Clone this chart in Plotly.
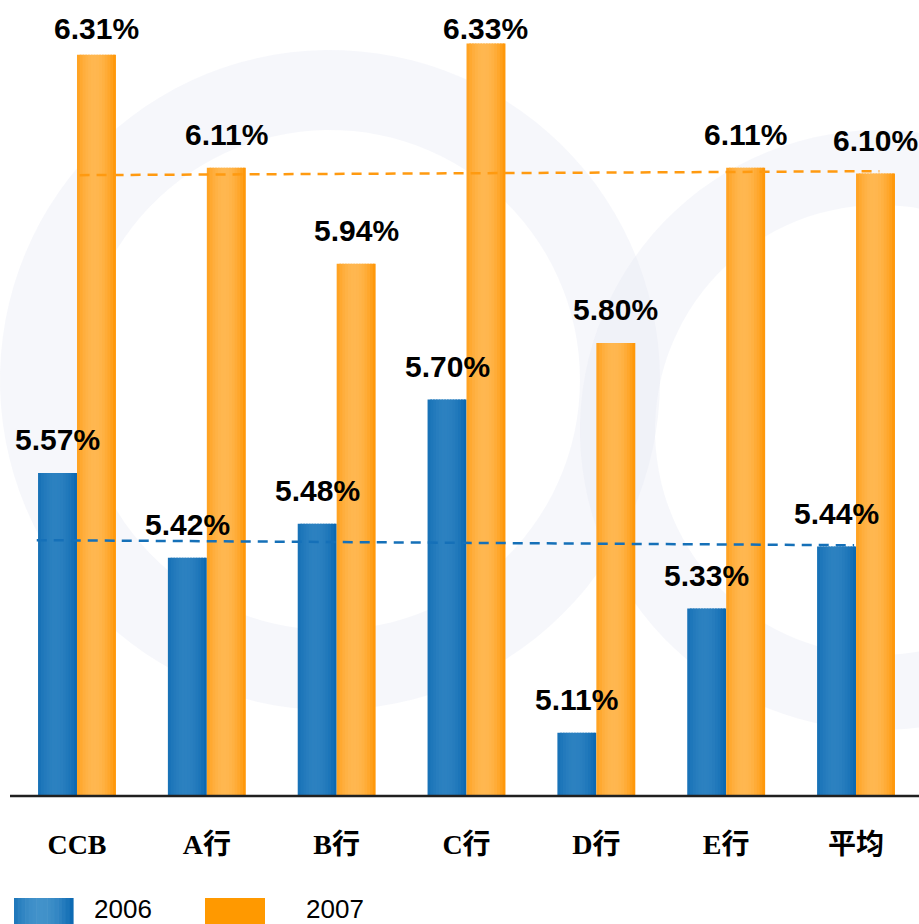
import numpy as np
import plotly.graph_objects as go

# ---- data -------------------------------------------------------------
categories = ["CCB", "A行", "B行", "C行", "D行", "E行", "平均"]
rate_2006 = [5.57, 5.42, 5.48, 5.70, 5.11, 5.33, 5.44]
rate_2007 = [6.31, 6.11, 5.94, 6.33, 5.80, 6.11, 6.10]
series_names = ["2006", "2007"]
# dashed reference lines (start value, end value)
ref_line_2006 = [5.451, 5.442]
ref_line_2007 = [6.097, 6.104]

# ---- geometry / styling ---------------------------------------------
W, H = 919, 924
AXIS_PX = 795                 # pixel row of the x axis line
Y_MIN, Y_MAX = 5.0, 6.407
X_RANGE = [-0.593, 6.485]
BAR_W = 0.30
N_SLICES = 14

BLUE_DARK, BLUE_LIGHT = (8, 102, 176), (44, 129, 192)
ORANGE_DARK, ORANGE_LIGHT = (255, 147, 0), (255, 183, 80)


def mix(c1, c2, w):
    r, g, b = (int(round(a + (b_ - a) * w)) for a, b_ in zip(c1, c2))
    return f"rgb({r},{g},{b})"


def sheen(t):
    # brightness profile across a bar: light band just left of centre
    w = 1 - ((t - 0.45) / 0.55) ** 2
    return max(0.0, min(1.0, w))


def px_x(px):
    return px / W


def px_y(py):
    return (AXIS_PX - py) / AXIS_PX


fig = go.Figure()

# gradient-shaded bars built from thin side-by-side slices
for values, start, dark, light in [
    (rate_2006, -BAR_W, BLUE_DARK, BLUE_LIGHT),
    (rate_2007, 0.0, ORANGE_DARK, ORANGE_LIGHT),
]:
    step = BAR_W / N_SLICES
    for k in range(N_SLICES):
        t = (k + 0.5) / N_SLICES
        fig.add_trace(go.Bar(
            x=categories, y=values,
            width=step * (1.6 if k < N_SLICES - 1 else 1.0),
            offset=start + k * step,
            marker=dict(color=mix(dark, light, sheen(t)), line=dict(width=0)),
            showlegend=False, hoverinfo="skip",
        ))

# value labels above each bar
px_per_unit = AXIS_PX / (Y_MAX - Y_MIN)
label_cap = Y_MAX - 28 / px_per_unit
gap = 33 / px_per_unit
annotations = []
for values, dx in [(rate_2006, -BAR_W / 2), (rate_2007, BAR_W / 2)]:
    for i, v in enumerate(values):
        annotations.append(dict(
            x=i + dx, y=min(v + gap, label_cap), xref="x", yref="y",
            text=f"{v:.2f}%", showarrow=False,
            xanchor="center", yanchor="middle",
            font=dict(family="Liberation Sans, Arial", size=30, color="#000000", weight="bold"),
        ))

shapes = []

# faint ring watermark in the background
def ring_path(cx, cy, r_out, r_in, n=120):
    a = np.linspace(0, 2 * np.pi, n)
    outer = [(px_x(cx + r_out * np.cos(t)), px_y(cy + r_out * np.sin(t))) for t in a]
    inner = [(px_x(cx + r_in * np.cos(t)), px_y(cy + r_in * np.sin(t))) for t in a[::-1]]
    p = "M " + " L ".join(f"{x:.4f},{y:.4f}" for x, y in outer) + " Z "
    p += "M " + " L ".join(f"{x:.4f},{y:.4f}" for x, y in inner) + " Z"
    return p

for cx, cy, ro, ri in [(330, 380, 330, 250), (880, 430, 300, 225)]:
    shapes.append(dict(type="path", xref="paper", yref="paper", layer="below",
                       path=ring_path(cx, cy, ro, ri),
                       fillcolor="rgba(228,233,244,0.35)", line=dict(width=0)))

# dashed average lines
shapes.append(dict(type="line", xref="x", yref="y", x0=-0.31, x1=5.985,
                   y0=ref_line_2006[0], y1=ref_line_2006[1],
                   line=dict(color="#1570b8", width=2.5, dash="10px,7px")))
shapes.append(dict(type="line", xref="x", yref="y", x0=0.02, x1=6.18,
                   y0=ref_line_2007[0], y1=ref_line_2007[1],
                   line=dict(color="#ff9a10", width=2.5, dash="10px,7px")))

# x axis base line
shapes.append(dict(type="line", xref="paper", yref="paper",
                   x0=px_x(10), x1=1.0, y0=px_y(AXIS_PX + 1), y1=px_y(AXIS_PX + 1),
                   line=dict(color="#202020", width=2.5)))

# legend: gradient blue swatch, flat orange swatch
sw_top, sw_bot = 898, 930
n_leg = 16
for k in range(n_leg):
    t = (k + 0.5) / n_leg
    x0 = 14 + k * 59 / n_leg
    shapes.append(dict(type="rect", xref="paper", yref="paper",
                       x0=px_x(x0), x1=px_x(x0 + 59 / n_leg + 0.6),
                       y0=px_y(sw_bot), y1=px_y(sw_top),
                       fillcolor=mix(BLUE_DARK, (66, 146, 202), sheen(t)), line=dict(width=0)))
shapes.append(dict(type="rect", xref="paper", yref="paper",
                   x0=px_x(205), x1=px_x(265), y0=px_y(sw_bot), y1=px_y(sw_top),
                   fillcolor="#ff9900", line=dict(width=0)))
for name, left in zip(series_names, [92, 304]):
    annotations.append(dict(
        x=px_x(left), y=px_y(909), xref="paper", yref="paper",
        text=name, showarrow=False, xanchor="left", yanchor="middle",
        font=dict(family="Liberation Sans, Arial", size=26, color="#000000"),
    ))

fig.update_layout(
    width=W, height=H,
    margin=dict(l=0, r=0, t=0, b=H - AXIS_PX),
    paper_bgcolor="white", plot_bgcolor="rgba(0,0,0,0)",
    barmode="overlay",
    showlegend=False,
    annotations=annotations,
    shapes=shapes,
    xaxis=dict(
        type="category", range=X_RANGE, showgrid=False, zeroline=False,
        showline=False, ticks="", ticklabelstandoff=30,
        tickfont=dict(family="Liberation Serif, Noto Sans CJK SC", size=28,
                      color="#000000", weight="bold"),
    ),
    yaxis=dict(range=[Y_MIN, Y_MAX], visible=False, showgrid=False, zeroline=False),
)

fig.write_html("out.html")
